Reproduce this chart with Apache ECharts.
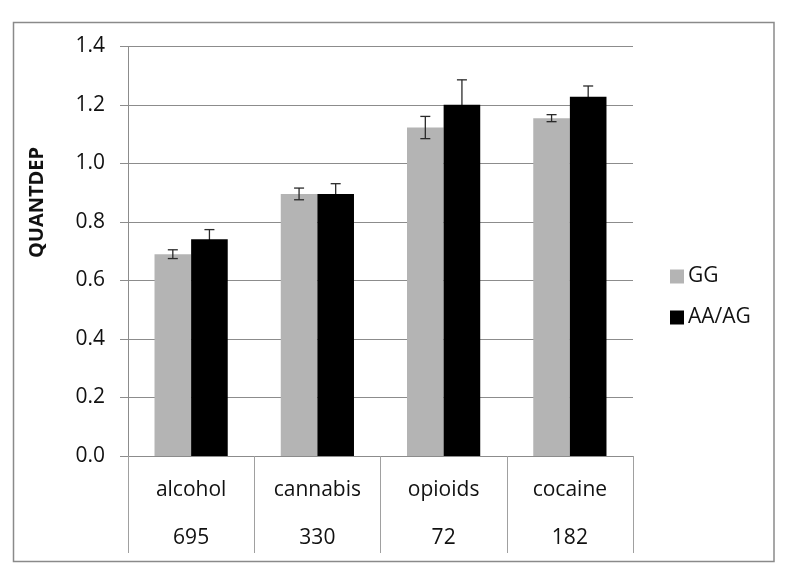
<!DOCTYPE html>
<html>
<head>
	<meta charset="UTF-8">
	<title>QUANTDEP</title>
	<style>
		html, body { margin: 0; padding: 0; background: #fff; }
		#chart { width: 800px; height: 581px; }
	</style>
</head>
<body>
<div id="chart"></div>
<script type="text/javascript" src="https://cdn.jsdelivr.net/npm/echarts@6/dist/echarts.min.js"></script>
<script type="text/javascript">
var categories = ['alcohol', 'cannabis', 'opioids', 'cocaine'];
var counts = ['695', '330', '72', '182'];
var ggValues = [0.690, 0.896, 1.123, 1.155];
var ggErr = [0.015, 0.020, 0.038, 0.012];
var aaValues = [0.741, 0.896, 1.201, 1.228];
var aaErr = [0.033, 0.035, 0.085, 0.037];

var font = 'Open Sans';
var barShare = 0.29; // each bar's share of the category band

function errData(vals, errs) {
	var out = [];
	for (var i = 0; i < vals.length; i++) {
		out.push([i, vals[i] - errs[i], vals[i] + errs[i]]);
	}
	return out;
}

function errRenderer(side) {
	return function (params, api) {
		var idx = api.value(0);
		var lo = api.coord([idx, api.value(1)]);
		var hi = api.coord([idx, api.value(2)]);
		var band = api.size([1, 0])[0];
		var x = lo[0] + side * band * barShare / 2;
		var cap = 5;
		var st = { stroke: '#2a2a2a', lineWidth: 1.3 };
		return {
			type: 'group',
			children: [
				{ type: 'line', shape: { x1: x, y1: lo[1], x2: x, y2: hi[1] }, style: st },
				{ type: 'line', shape: { x1: x - cap, y1: lo[1], x2: x + cap, y2: lo[1] }, style: st },
				{ type: 'line', shape: { x1: x - cap, y1: hi[1], x2: x + cap, y2: hi[1] }, style: st }
			]
		};
	};
}

var chart = echarts.init(document.getElementById('chart'));
var option = {
	animation: false,
	textStyle: { fontFamily: font },
	grid: { left: 128, right: 167, top: 46.5, bottom: 125 },
	legend: {
		orient: 'vertical',
		left: 665,
		top: 261,
		itemWidth: 14,
		itemHeight: 14,
		itemGap: 20,
		icon: 'rect',
		textStyle: { fontFamily: font, fontSize: 21, color: '#111', padding: [0, 0, 0, -1] },
		data: ['GG', 'AA/AG']
	},
	xAxis: {
		type: 'category',
		data: categories,
		axisLine: { lineStyle: { color: '#8c8c8c', width: 1 } },
		axisTick: { show: true, length: 97, lineStyle: { color: '#a0a0a0' } },
		axisLabel: {
			margin: 10,
			formatter: function (v, i) {
				return '{a|' + v + '}\n{b|' + counts[i] + '}';
			},
			rich: {
				a: { fontFamily: font, fontSize: 21, lineHeight: 48, color: '#111' },
				b: { fontFamily: font, fontSize: 21, lineHeight: 48, color: '#111' }
			}
		}
	},
	yAxis: {
		type: 'value',
		min: 0,
		max: 1.4,
		interval: 0.2,
		axisLine: { show: true, lineStyle: { color: '#8c8c8c' } },
		axisTick: { show: true, length: 8, lineStyle: { color: '#8c8c8c' } },
		axisLabel: {
			margin: 23,
			fontFamily: font,
			fontSize: 21,
			color: '#111',
			formatter: function (v) { return v.toFixed(1); }
		},
		splitLine: { lineStyle: { color: '#8c8c8c', width: 1.2 } }
	},
	graphic: [
		{
			type: 'rect',
			shape: { x: 13.5, y: 22.5, width: 760.5, height: 539 },
			style: { fill: 'none', stroke: '#8a8a8a', lineWidth: 1.5 },
			z: 0
		},
		{
			type: 'text',
			x: 37.5,
			y: 202.5,
			rotation: Math.PI / 2,
			style: {
				text: 'QUANTDEP',
				fontFamily: font,
				fontSize: 20,
				fontWeight: 'bold',
				fill: '#111',
				textAlign: 'center',
				textVerticalAlign: 'middle'
			}
		}
	],
	series: [
		{
			name: 'GG',
			type: 'bar',
			data: ggValues,
			barGap: '0%',
			barCategoryGap: '42%',
			itemStyle: { color: '#b4b4b4' },
			z: 2
		},
		{
			name: 'AA/AG',
			type: 'bar',
			data: aaValues,
			itemStyle: { color: '#000' },
			z: 2
		},
		{
			name: 'GG err',
			type: 'custom',
			data: errData(ggValues, ggErr),
			renderItem: errRenderer(-1),
			z: 5
		},
		{
			// drawn under the black bars, so only the upper half shows
			name: 'AA/AG err',
			type: 'custom',
			data: errData(aaValues, aaErr),
			renderItem: errRenderer(1),
			z: 1
		}
	]
};
chart.setOption(option);
</script>
</body>
</html>
